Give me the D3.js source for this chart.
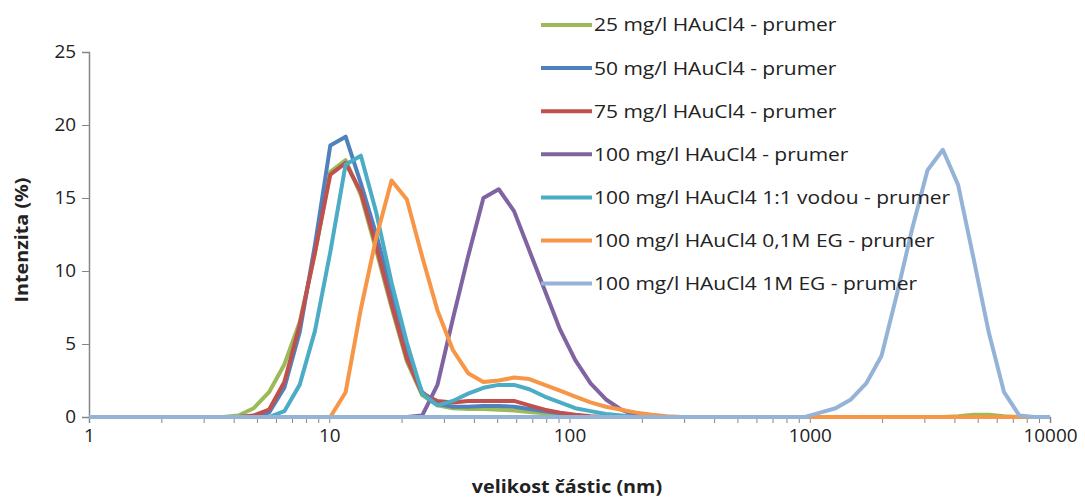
<!DOCTYPE html>
<html><head><meta charset="utf-8">
<script src="https://cdn.jsdelivr.net/npm/d3@7"></script>
<style>body{margin:0;background:#fff;} svg{display:block;font-family:"Open Sans",sans-serif;}</style>
</head><body>
<svg id="c" width="1085" height="499"></svg>
<script>
const sizes = [0.9649,1.117,1.294,1.499,1.736,2.010,2.328,2.696,3.122,3.615,4.187,4.849,5.615,6.503,7.531,8.721,10.10,11.70,13.54,15.69,18.17,21.04,24.36,28.21,32.67,37.84,43.82,50.75,58.77,68.06,78.82,91.28,105.7,122.4,141.8,164.2,190.1,220.2,255.0,295.3,342.0,396.1,458.7,531.2,615.1,712.4,825.0,955.4,1106,1281,1484,1718,1990,2305,2669,3091,3580,4145,4801,5560,6439,7456,8635,10000];

const s25   = [0,0,0,0,0,0,0,0,0,0,0.1,0.6,1.7,3.6,6.5,11.2,16.8,17.6,15.2,11.4,7.5,3.8,1.5,0.8,0.6,0.55,0.55,0.5,0.45,0.35,0.25,0.15,0.05,0,0,0,0,0,0,0,0,0,0,0,0,0,0,0,0,0,0,0,0,0,0,0,0,0.05,0.15,0.15,0.05,0,0,0];
const s50   = [0,0,0,0,0,0,0,0,0,0,0,0.05,0.3,2.0,5.8,11.8,18.6,19.2,16.0,12.5,8.6,4.5,1.7,0.9,0.7,0.7,0.75,0.75,0.7,0.55,0.4,0.25,0.1,0,0,0,0,0,0,0,0,0,0,0,0,0,0,0,0,0,0,0,0,0,0,0,0,0,0,0,0,0,0,0];
const s75   = [0,0,0,0,0,0,0,0,0,0,0,0.1,0.5,2.4,6.3,11.3,16.6,17.4,15.4,11.7,7.7,4.0,1.6,1.1,1.0,1.1,1.1,1.1,1.1,0.8,0.5,0.3,0.15,0.05,0,0,0,0,0,0,0,0,0,0,0,0,0,0,0,0,0,0,0,0,0,0,0,0,0,0,0,0,0,0];
const s100  = [0,0,0,0,0,0,0,0,0,0,0,0,0,0,0,0,0,0,0,0,0,0,0.1,2.2,6.7,11.0,15.0,15.6,14.1,11.4,8.7,6.0,3.9,2.3,1.2,0.5,0.1,0,0,0,0,0,0,0,0,0,0,0,0,0,0,0,0,0,0,0,0,0,0,0,0,0,0,0];
const s100w = [0,0,0,0,0,0,0,0,0,0,0,0,0,0.4,2.2,5.9,11.3,17.3,17.9,14.0,9.2,5.1,1.6,0.8,1.1,1.6,2.0,2.2,2.2,1.9,1.4,1.0,0.6,0.4,0.2,0.1,0,0,0,0,0,0,0,0,0,0,0,0,0,0,0,0,0,0,0,0,0,0,0,0,0,0,0,0];
const s01eg = [0,0,0,0,0,0,0,0,0,0,0,0,0,0,0,0,0,1.7,7.4,12.3,16.2,14.9,11.0,7.3,4.6,3.0,2.4,2.5,2.7,2.6,2.2,1.8,1.4,1.0,0.7,0.5,0.3,0.15,0.05,0,0,0,0,0,0,0,0,0,0,0,0,0,0,0,0,0,0,0,0,0,0,0,0,0];
const s1eg  = [0,0,0,0,0,0,0,0,0,0,0,0,0,0,0,0,0,0,0,0,0,0,0,0,0,0,0,0,0,0,0,0,0,0,0,0,0,0,0,0,0,0,0,0,0,0,0,0,0.3,0.6,1.2,2.3,4.2,8.4,12.9,16.9,18.3,15.9,10.9,5.8,1.7,0.1,0,0];

const seriesNames = ["25 mg/l HAuCl4 - prumer","50 mg/l HAuCl4 - prumer","75 mg/l HAuCl4 - prumer","100 mg/l HAuCl4 - prumer","100 mg/l HAuCl4 1:1 vodou - prumer","100 mg/l HAuCl4 0,1M EG - prumer","100 mg/l HAuCl4 1M EG - prumer"];
const seriesColors = ["#9BBB59","#4F81BD","#C0504D","#8064A2","#4BACC6","#F79646","#95B3D7"];
const seriesValues = [s25,s50,s75,s100,s100w,s01eg,s1eg];
const xTicks = [1,10,100,1000,10000];
const yTicks = [0,5,10,15,20,25];

const svg = d3.select("#c");
const L=89, R=1050, T=52, B=417;
const x = d3.scaleLog().domain([1,10000]).range([L,R]);
const y = d3.scaleLinear().domain([0,25]).range([B,T]);
const axisCol = "#868686";
const textCol = "#222";

function stretch(sel, f){
  sel.each(function(){
    const w = this.getComputedTextLength();
    d3.select(this).attr("textLength", w*f).attr("lengthAdjust","spacingAndGlyphs");
  });
}

svg.append("defs").append("clipPath").attr("id","clip").append("rect")
  .attr("x",L).attr("y",0).attr("width",R-L).attr("height",B+5);

// x axis
const minor = [];
for (let d=1; d<10000; d*=10) for (let k=1;k<10;k++) minor.push(d*k);
minor.push(10000);
const gx = svg.append("g").attr("transform",`translate(0,${B})`)
  .call(d3.axisBottom(x).tickValues(minor).tickSize(6).tickFormat(""));
gx.select(".domain").attr("stroke",axisCol).attr("stroke-width",1.5);
gx.selectAll(".tick line").attr("stroke",axisCol);
const gxl = svg.append("g").attr("transform",`translate(0,${B})`)
  .call(d3.axisBottom(x).tickValues(xTicks).tickSize(0).tickPadding(12).tickFormat(d3.format("d")));
gxl.select(".domain").remove();
gxl.selectAll("text").attr("font-size",18).attr("fill",textCol).attr("font-family","Open Sans");
stretch(gxl.selectAll("text"), 1.05);

// y axis
const gy = svg.append("g").attr("transform",`translate(${L},0)`)
  .call(d3.axisLeft(y).tickValues(yTicks).tickSize(7).tickPadding(6));
gy.select(".domain").attr("stroke",axisCol).attr("stroke-width",1.5);
gy.selectAll(".tick line").attr("stroke",axisCol);
gy.selectAll("text").attr("font-size",18).attr("fill",textCol).attr("font-family","Open Sans");
stretch(gy.selectAll("text"), 1.05);

// lines
const line = d3.line().x((d,i)=>x(sizes[i])).y(d=>y(d));
const gl = svg.append("g").attr("clip-path","url(#clip)");
seriesValues.forEach((vals,i)=>{
  gl.append("path").datum(vals).attr("d",line)
    .attr("fill","none").attr("stroke",seriesColors[i]).attr("stroke-width",4)
    .attr("stroke-linejoin","round");
});

// legend
const lg = svg.append("g");
seriesNames.forEach((n,i)=>{
  const yy = 25 + i*43.1;
  lg.append("line").attr("x1",541).attr("x2",592).attr("y1",yy).attr("y2",yy)
    .attr("stroke",seriesColors[i]).attr("stroke-width",4);
  lg.append("text").attr("x",594).attr("y",yy).attr("dy","0.36em")
    .attr("font-size",18).attr("fill",textCol).text(n);
});
stretch(lg.selectAll("text"), 1.165);

// titles
const xt = svg.append("text").attr("x",567).attr("y",493).attr("text-anchor","middle")
  .attr("font-size",17).attr("font-weight","bold").attr("fill",textCol).text("velikost částic (nm)");
stretch(xt, 1.16);
const yt = svg.append("text").attr("transform","translate(28,240) rotate(-90)").attr("text-anchor","middle")
  .attr("font-size",17).attr("font-weight","bold").attr("fill",textCol).text("Intenzita (%)");
stretch(yt, 1.16);
</script>
</body></html>
